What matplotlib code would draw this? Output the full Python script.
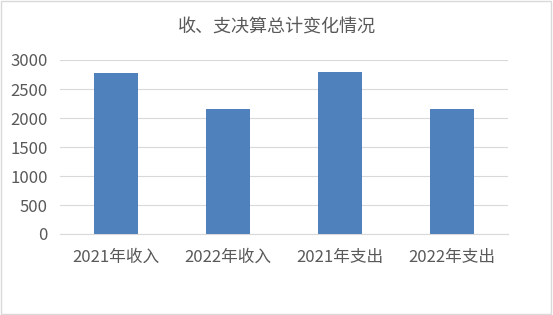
import matplotlib
matplotlib.use("Agg")
import matplotlib.pyplot as plt
from matplotlib.patches import Rectangle

plt.rcParams['font.family'] = ['Noto Sans CJK SC', 'DejaVu Sans']

categories = ['2021年收入', '2022年收入', '2021年支出', '2022年支出']
values = [2775, 2155, 2795, 2155]
y_ticks = [0, 500, 1000, 1500, 2000, 2500, 3000]
title = '收、支决算总计变化情况'

BAR_COLOR = '#4F81BD'
TEXT_COLOR = '#595959'
GRID_COLOR = '#D9D9D9'


def main():
    fig = plt.figure(figsize=(5.53, 3.15), dpi=100, facecolor='white')
    ax = fig.add_axes([60 / 553, 1 - 234 / 315, 448 / 553, 174 / 315])

    x = range(len(categories))
    ax.bar(x, values, width=0.4, color=BAR_COLOR, zorder=3)

    ax.set_xlim(-0.5, len(categories) - 0.5)
    ax.set_ylim(0, 3000)
    ax.set_yticks(y_ticks)
    ax.set_xticks(list(x))
    ax.set_xticklabels(categories)
    ax.tick_params(axis='y', length=0, labelsize=12, colors=TEXT_COLOR, pad=9)
    ax.tick_params(axis='x', length=0, labelsize=12, colors=TEXT_COLOR, pad=11)
    ax.grid(axis='y', color=GRID_COLOR, linewidth=0.8, zorder=0)
    for side in ['top', 'right', 'left']:
        ax.spines[side].set_visible(False)
    ax.spines['bottom'].set_color(GRID_COLOR)

    fig.text(0.5, 1 - 28 / 315, title, ha='center', va='center',
             fontsize=13, color=TEXT_COLOR)

    # light frame around the chart area
    fig.patches.append(Rectangle((0.002, 0.003), 0.995, 0.993, transform=fig.transFigure,
                                 fill=False, edgecolor='#D9D9D9', linewidth=1))

    fig.savefig('out.png', dpi=100, facecolor='white')


if __name__ == "__main__":
    main()
